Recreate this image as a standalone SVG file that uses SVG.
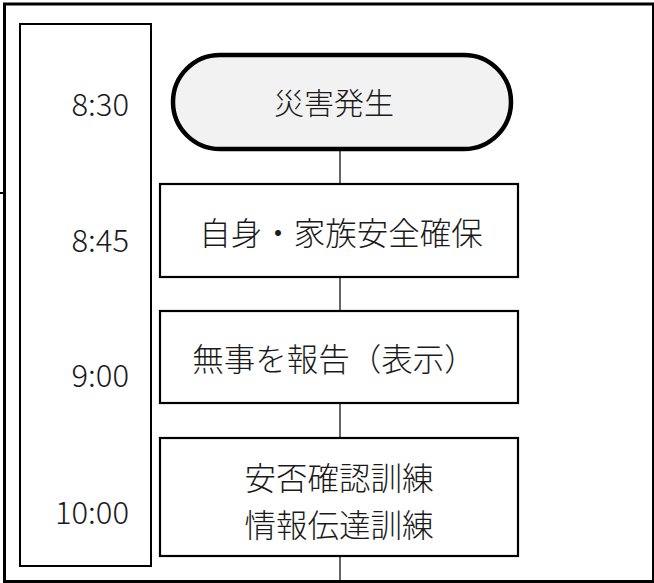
<svg xmlns="http://www.w3.org/2000/svg" width="654" height="583" viewBox="0 0 654 583">
<style>
.frame{fill:none;stroke:#000;stroke-width:3}
.col{fill:#fff;stroke:#000;stroke-width:2}
.box{fill:#fff;stroke:#000;stroke-width:2.2}
.term{fill:#f2f2f2;stroke:#000;stroke-width:4.5}
.conn{stroke:#000;stroke-width:1.2;fill:none}
.t{font-family:"Noto Sans CJK JP","Noto Sans",sans-serif;font-weight:300;fill:#1a1a1a}
.time{font-size:31px;text-anchor:end}
.lbl{font-size:31.5px;text-anchor:middle}
</style>
<rect x="0" y="0" width="654" height="583" fill="#fff"/>
<rect class="frame" x="4.5" y="4" width="649" height="577.5"/>
<line x1="0" y1="193" x2="4" y2="193" stroke="#000" stroke-width="2"/>
<g id="timeline">
<rect class="col" x="20" y="24" width="131" height="542"/>
<text class="t time" x="129" y="116">8:30</text>
<text class="t time" x="129" y="252">8:45</text>
<text class="t time" x="129" y="387">9:00</text>
<text class="t time" x="129" y="524">10:00</text>
</g>
<g id="connectors">
<line class="conn" x1="340" y1="150" x2="340" y2="184"/>
<line class="conn" x1="340" y1="277" x2="340" y2="311"/>
<line class="conn" x1="340" y1="403" x2="340" y2="438"/>
<line class="conn" x1="340" y1="556" x2="340" y2="581"/>
</g>
<g id="n1">
<rect class="term" x="173" y="55" width="338" height="94" rx="47" ry="47"/>
<text class="t lbl" x="334" y="114" style="font-size:30px">災害発生</text>
</g>
<g id="n2">
<rect class="box" x="160" y="184" width="358" height="93"/>
<text class="t lbl" x="341" y="245">自身・家族安全確保</text>
</g>
<g id="n3">
<rect class="box" x="160" y="311" width="358" height="92"/>
<text class="t lbl" x="334" y="371">無事を報告（表示）</text>
</g>
<g id="n4">
<rect class="box" x="160" y="438" width="358" height="118"/>
<text class="t lbl" x="339" y="490">安否確認訓練</text>
<text class="t lbl" x="339" y="537">情報伝達訓練</text>
</g>
</svg>
